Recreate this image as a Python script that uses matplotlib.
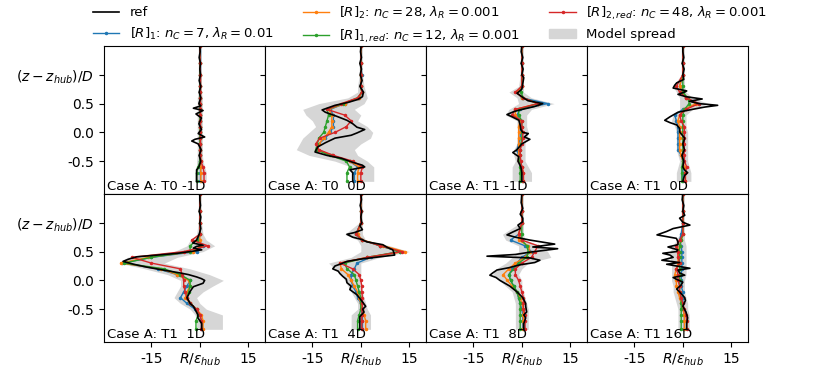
import numpy as np
import matplotlib
matplotlib.use("Agg")
import matplotlib.pyplot as plt
from matplotlib.patches import Patch

# panel titles
cases = ["Case A: T0 -1D", "Case A: T0  0D", "Case A: T1 -1D", "Case A: T1  0D",
         "Case A: T1  1D", "Case A: T1  4D", "Case A: T1  8D", "Case A: T1 16D"]

# reference profiles (z/D, R/eps_hub) per panel
z_ref = [
    [-0.85, -0.75, -0.65, -0.6, -0.5, -0.4, -0.3, -0.2, -0.15, -0.12, -0.08, -0.02, 0.05, 0.15, 0.25, 0.32,
     0.38, 0.42, 0.46, 0.5, 0.6, 0.7, 0.8, 0.9, 1.0, 1.1, 1.2, 1.3, 1.4, 1.5],
    [-0.85, -0.7, -0.65, -0.6, -0.57, -0.52, -0.45, -0.4, -0.34, -0.25, -0.18, -0.1, -0.05, -0.01, 0.05, 0.09,
     0.15, 0.21, 0.28, 0.35, 0.39, 0.43, 0.47, 0.52, 0.57, 0.62, 0.7, 0.8, 0.9, 1.0, 1.1, 1.2, 1.3, 1.4, 1.5],
    [-0.85, -0.7, -0.6, -0.5, -0.42, -0.35, -0.3, -0.2, -0.12, -0.08, -0.02, 0.0, 0.05, 0.12, 0.21, 0.27,
     0.31, 0.36, 0.39, 0.45, 0.5, 0.55, 0.6, 0.68, 0.75, 0.85, 0.95, 1.0, 1.1, 1.2, 1.3, 1.4, 1.5],
    [-0.85, -0.75, -0.7, -0.65, -0.6, -0.5, -0.4, -0.3, -0.2, -0.1, 0.0, 0.07, 0.13, 0.17, 0.21, 0.27,
     0.35, 0.4, 0.44, 0.47, 0.5, 0.54, 0.58, 0.62, 0.66, 0.7, 0.72, 0.77, 0.82, 0.86, 0.92, 1.0, 1.1, 1.2,
     1.3, 1.4, 1.5],
    [-0.85, -0.75, -0.65, -0.6, -0.5, -0.45, -0.4, -0.35, -0.3, -0.25, -0.2, -0.15, -0.11, -0.05, 0.0, 0.03,
     0.06, 0.1, 0.13, 0.18, 0.23, 0.28, 0.33, 0.37, 0.41, 0.44, 0.47, 0.5, 0.53, 0.56, 0.59, 0.61, 0.65, 0.7,
     0.8, 0.9, 1.0, 1.1, 1.2, 1.3, 1.4, 1.5],
    [-0.85, -0.7, -0.63, -0.55, -0.5, -0.45, -0.38, -0.3, -0.25, -0.16, -0.1, -0.04, 0.02, 0.07, 0.12, 0.16,
     0.2, 0.25, 0.29, 0.33, 0.37, 0.41, 0.44, 0.49, 0.53, 0.58, 0.62, 0.67, 0.71, 0.75, 0.8, 0.83, 0.88, 0.95,
     1.0, 1.1, 1.2, 1.3, 1.4, 1.5],
    [-0.85, -0.75, -0.65, -0.6, -0.55, -0.45, -0.4, -0.3, -0.2, -0.1, 0.0, 0.05, 0.09, 0.13, 0.18, 0.22,
     0.27, 0.31, 0.35, 0.39, 0.42, 0.45, 0.49, 0.55, 0.58, 0.63, 0.7, 0.75, 0.79, 0.84, 0.9, 0.96, 1.02, 1.08,
     1.15, 1.25, 1.35, 1.5],
    [-0.85, -0.75, -0.65, -0.55, -0.45, -0.35, -0.3, -0.2, -0.15, -0.08, -0.03, 0.02, 0.05, 0.09, 0.13, 0.18,
     0.21, 0.25, 0.28, 0.31, 0.35, 0.4, 0.44, 0.47, 0.5, 0.53, 0.58, 0.62, 0.67, 0.73, 0.79, 0.85, 0.9, 0.96,
     1.01, 1.08, 1.13, 1.2, 1.3, 1.4, 1.5],
]
r_ref = [
    [-1.0, -1.0, -1.0, -0.3, 0.3, -0.2, 0.4, -0.5, -2.5, -1.5, 1.5, -0.5, 0.5, -0.3, 0.5, -1.2,
     1.0, -2.0, 0.3, -0.3, 0.3, -0.2, 0.3, -0.2, 0.2, 0.0, 0.2, -0.2, 0.1, 0.0],
    [-2.5, -2.5, -3.4, 1.2, 0.5, -2.5, -6.0, -10.5, -14.2, -13.3, -11.0, -8.0, -3.0, -1.2, 1.2, -1.2,
     -2.5, -4.3, -7.5, -11.0, -12.0, -10.0, -8.0, -4.0, -1.0, 0.5, 0.8, -0.3, 0.4, -0.2, 0.2, -0.3, 0.2, -0.1,
     0.1],
    [0.0, 0.0, -0.3, -1.2, -1.0, -2.8, -1.5, 0.0, 2.5, 0.8, 2.0, 0.3, -0.3, -0.5, -0.9, -3.0,
     -4.6, -2.5, -0.6, 4.0, 6.5, 1.9, 0.5, -1.5, 0.0, 0.3, 0.6, 0.0, 0.4, -0.2, 0.3, -0.2, 0.0],
    [0.0, 0.5, 1.5, 0.5, 0.0, 0.3, -0.3, 0.5, 0.0, 0.6, -0.9, -1.0, -1.9, -4.0, -5.6, -4.0,
     -1.5, 3.0, 6.8, 10.8, 5.0, 2.0, 6.0, 1.0, -1.5, 0.5, 1.2, -3.0, -2.5, -1.9, 0.3, 0.0, 0.4, -0.2,
     0.3, 0.0, 0.0],
    [0.6, 0.6, -0.6, -0.6, -1.5, -2.0, -3.0, -3.5, -4.0, -3.5, -3.1, -2.5, -2.0, 1.0, 1.5, 0.5,
     -1.0, -3.5, -6.2, -11.4, -16.4, -20.5, -23.8, -22.0, -19.5, -13.0, -7.0, -3.0, 0.6, -2.0, -1.0, 1.0, -2.2,
     -1.0, -0.2, 0.3, 0.0, 0.3, -0.2, 0.2, 0.0, 0.0],
    [-0.3, -0.3, -0.3, 1.0, 0.6, 1.5, 0.6, -0.5, -1.2, -3.4, -3.0, -4.3, -4.5, -5.6, -6.5, -7.0,
     -8.7, -8.0, -6.0, -4.3, 0.0, 6.0, 10.5, 10.2, 9.9, 8.0, 6.8, 1.8, 0.3, -2.5, -4.3, -2.0, 0.5, -0.3,
     0.3, 0.0, 0.3, -0.2, 0.2, 0.0],
    [0.6, 0.6, 1.2, 0.6, 1.5, 1.2, 1.2, 0.3, -1.5, -3.7, -6.8, -8.0, -9.9, -9.0, -7.7, -4.0,
     -0.6, 4.0, 5.6, 2.5, -10.8, -2.0, 2.5, 11.1, 3.4, 10.2, 2.5, -2.0, -4.6, -2.8, -0.5, -1.2, 0.3, 0.3,
     -0.5, 0.3, -0.2, 0.0],
    [1.2, 1.2, 1.5, 1.0, 0.0, 0.8, 0.6, -1.0, -1.9, -0.5, 0.0, -2.0, -3.0, 0.6, -1.0, -1.5,
     2.2, -2.0, -5.0, -1.0, -6.5, -3.0, -4.0, -6.2, -2.0, -1.5, -4.6, -1.5, -1.5, -2.0, -8.0, -5.0, -3.0, 2.2,
     0.0, -1.0, 0.6, 0.0, 0.3, -0.2, 0.0],
]

# model profiles on a common z grid
z_mod = [-0.85, -0.7, -0.6, -0.5, -0.4, -0.3, -0.2, -0.1, 0.0, 0.1, 0.2, 0.3, 0.4, 0.5, 0.6, 0.7, 0.8, 1.0, 1.2, 1.5]

r1 = [
    [0.0, 0.0, 0.0, 0.0, 0.0, 0.0, 0.0, 0.0, 0.0, 0.0, 0.0, 0.0, 0.0, 0.0, 0.0, 0.0, 0.0, 0.0, 0.0, 0.0],
    [-2, -2, -1, -3.5, -9, -13.5, -13, -11, -9.5, -8.5, -8.5, -8.5, -9.5, -5, -0.5, 0.5, 0, 0.3, 0, 0],
    [0, 0, 0, -0.5, -1, -1.5, -1, -0.5, -0.5, -0.5, -0.5, -1.5, -0.5, 8, 0, -1.5, 0, 0, 0, 0],
    [0, 0, 0, 0, -0.5, -1.5, -1.5, -1.5, -1.5, -1.5, -2, -2.5, 0, 5, 1, 0, -1, 0, 0, 0],
    [0.5, 0.5, 0, -1.5, -4, -6, -5, -4, -3, -7, -13, -24, -15, -1, 1, -0.5, 0, 0, 0, 0],
    [0.5, 0.5, 0.5, 0, 0, -1, -1.5, -2.5, -3, -3, -2, -1.2, 3, 12, 6, 0.5, -1.5, 0, 0, 0],
    [0.3, 0.3, 0.3, 0, -0.5, -1, -1.5, -2.5, -3.5, -4, -3, -1.5, 0, 3, 1, -3.5, -1, 0, 0, 0],
    [0.5, 0.5, 0.5, 0, 0, 0, 0, -0.5, -0.5, -0.5, -0.3, -0.3, -0.3, -0.3, -0.5, -1, -0.5, 0, 0, 0],
]
r2 = [
    [0.3, 0.3, 0.3, 0.3, 0.2, 0.2, 0.2, 0.2, 0.2, 0.2, 0.2, 0.2, 0.2, 0.2, 0.2, 0.2, 0.2, 0.2, 0.1, 0.0],
    [-1, -1, -0.5, -3.5, -9, -13.5, -13, -11.5, -10, -9, -9, -9, -10, -5, -0.5, 0.3, 0, 0.2, 0, 0],
    [0.5, 0.5, 0, -1, -1, -1, -1, -1, -1, -1, -0.5, -2, -2, 5, 0, -1.5, 0, 0, 0, 0],
    [0.8, 0.8, 0.5, 0, -0.5, -1, -1, -1, -1, -1, -1.5, -1, 0.5, 4, 1, 0, -1, 0, 0, 0],
    [1, 1, 0.5, -1, -3, -4.5, -4, -3, -3.5, -7, -12, -24.5, -16, -2, 0.5, 0, 0, 0, 0, 0],
    [1.5, 1.5, 1, 0.5, 0, -0.5, -1, -2, -3, -4, -6, -6.5, 2, 13.6, 7, 0.5, -1, 0, 0, 0],
    [0.5, 0.5, 0.5, 0.5, 0, -0.5, -1.5, -3, -4.5, -5.8, -4, -2, 1, 2.5, 2, -1, -1, 0, 0, 0],
    [0.5, 0.5, 0.5, 0, -0.5, -1, -1.5, -2, -2, -2.5, -2, -1.5, -1.5, -1.5, -1, -0.5, 0, 0, 0, 0],
]
r1_red = [
    [-1, -1, -0.5, 0, 0, 0, 0, 0, 0, 0, 0, 0, 0, 0, 0, 0, 0, 0, 0, 0],
    [-4.3, -4.3, -3.5, -4.5, -9.5, -14, -13.5, -13, -11.5, -11, -10.5, -10, -10.5, -5.5, -1, 0.3, 0, 0.2, 0, 0],
    [-0.5, -0.5, -0.5, -0.5, -0.5, -0.5, -0.3, 0, 0, 0, 0, -1, -1, 5, 0.5, -0.3, 0, 0, 0, 0],
    [-0.3, -0.3, -0.3, 0, 0, 0, 0, 0, 0, 0, 0, 0, 0.5, 2, 1.5, 0, 0, 0, 0, 0],
    [-1.2, -1.2, -0.5, -1, -3, -4, -3.5, -3, -3, -6, -11, -23.5, -15, -3, -3, -1, 0, 0, 0, 0],
    [-1, -1, -0.5, 0, 0, 0, -0.5, -1, -1.5, -2, -4.3, -5, 2, 12, 6, 0.5, -1.5, 0, 0, 0],
    [-0.5, -0.5, -0.5, -0.5, -0.5, -1, -1.5, -2.5, -3.5, -4, -2.5, -1, 1.5, 2, 1.5, 0, 0, 0, 0, 0],
    [-0.5, -0.5, -0.5, -0.5, -0.5, -0.5, -1, -1, -1, -1, -1, -1, -1, -1, -1, -0.5, 0, 0, 0, 0],
]
r2_red = [
    [1.3, 1.3, 1, 0.3, 0.2, 0.2, 0.2, 0.2, 0.2, 0.2, 0.2, 0.2, 0.2, 0.2, 0.2, 0.2, 0.2, 0.2, 0.1, 0.0],
    [0, 0, 0.5, -2.5, -8.5, -13, -14, -12.7, -8, -4.5, -3, -5, -10.5, -6, -1, 0.3, 0, 0.2, 0, 0],
    [0.5, 0.5, 0, -0.3, -0.5, -0.5, 0, 0.3, 0.3, 0, 0, -3, -2, 5, 0.5, -2, 0, 0, 0, 0],
    [0.8, 0.8, 1.2, 0.5, 0.5, 0.3, 0.5, 0.5, 0.5, 0.5, -0.5, -1, 1, 5, 1, -1, -2, 0, 0, 0],
    [0.5, 0.5, 0, -1, -3, -4, -4.5, -5, -5, -5.5, -6, -15, -21, -5, 2.5, -2.5, 0, 0, 0, 0],
    [0.3, 0.3, 0.3, 0.5, 0.5, 0.5, 0.3, 0.3, 0, -0.5, -2.5, -6.5, 2, 12.7, 6, 0.5, -1.5, 0, 0, 0],
    [1, 1, 1, 0.5, 0.5, 0.5, 0, -0.5, -1, -2, -2, 0, 3, 4, 5, 0, -1, 0, 0, 0],
    [1.2, 1.2, 1, 0.5, 0, -0.5, -1, -1, -1.5, -1.5, -2, -1, -1.5, -1.5, -2, -1, 0, 0, 0, 0],
]
spread_lo = [
    [-1.5, -1.5, -1, -1, -0.8, -0.8, -0.8, -0.8, -0.8, -0.8, -0.8, -0.8, -0.8, -0.8, -0.8, -0.5, -0.5, -0.5, -0.5, -0.5],
    [-3, -3, -3, -8, -16, -20, -19, -18, -16, -14, -15, -17, -18, -13, -4, -1, -1, -0.5, -0.5, -0.5],
    [-3, -3, -3, -2, -2.5, -2.5, -1.5, -1.5, -1, -1.5, -1.5, -5, -4, -1, -1.5, -4, -1, -0.5, -0.5, -0.5],
    [-2, -2, -1.5, -1, -1.5, -2, -2, -2, -2, -2.5, -3.5, -3, -1, -1, -1, -2, -3, -0.5, -0.5, -0.5],
    [-1, -1, -1.5, -3, -6, -8, -7, -6, -6, -10, -17, -25, -22.5, -8, -4, -3, -1, -0.5, -0.5, -0.5],
    [-3, -3, -3, -1, -1, -2, -3, -4, -5, -6, -8, -10, -3, 0, 0, -1, -5, -0.5, -0.5, -0.5],
    [-2, -2, -2, -2, -2, -2.5, -3, -5, -7, -9, -8, -5, -3, -1, -1, -5, -6, -0.5, -0.5, -0.5],
    [-1.5, -1.5, -1.5, -1.5, -2, -2.5, -3, -3, -3.5, -3.5, -3.5, -3.5, -4, -4, -3, -2, -1, -0.5, -0.5, -0.5],
]
spread_hi = [
    [2, 2, 1.5, 1, 0.8, 0.8, 0.8, 0.8, 0.8, 0.8, 0.8, 0.8, 0.8, 0.8, 0.8, 0.5, 0.5, 0.5, 0.5, 0.5],
    [4, 4, 4, 2, -1, -2, 0, 3, 3.7, 2, -1, 0, -2, 1, 2, 1.5, 1, 0.5, 0.5, 0.5],
    [3, 3, 2, 1, 1, 1, 1, 1.5, 2, 1.5, 1.5, 1.5, 3, 10, 3, 0.5, 0.5, 0.5, 0.5, 0.5],
    [2.5, 2.5, 2, 1.5, 1.5, 1.5, 1.5, 1.5, 1.5, 1, 1, 1, 3, 8, 3, 1, 0.5, 0.5, 0.5, 0.5],
    [7, 7, 7, 2, 0, -1, 1, 4, 7.3, 3, -3, -11, -7, 1, 4.6, 2, 1, 0.5, 0.5, 0.5],
    [3, 3, 3, 2, 1.5, 1, 0.5, 0, 0, 0, 0, 0, 6, 15, 9, 1.5, 0.5, 0.5, 0.5, 0.5],
    [2, 2, 2, 2, 1.5, 1, 0.5, 0, 0, -1, 0, 2, 9, 8, 6, 1, 0.5, 0.5, 0.5, 0.5],
    [2, 2, 2, 1.5, 1.5, 1, 0.5, 0.5, 0.5, 1, 1, 1, 1, 1, 1, 0.5, 0.5, 0.5, 0.5, 0.5],
]

labels = ["ref",
          r"$[R]_1$: $n_C = 7$, $\lambda_R = 0.01$",
          r"$[R]_2$: $n_C = 28$, $\lambda_R = 0.001$",
          r"$[R]_{1,red}$: $n_C = 12$, $\lambda_R = 0.001$",
          r"$[R]_{2,red}$: $n_C = 48$, $\lambda_R = 0.001$",
          "Model spread"]

fig, axes = plt.subplots(2, 4, figsize=(8.3, 3.86), dpi=100, sharex=True, sharey=True)
fig.subplots_adjust(left=0.1253, right=0.9012, top=0.8808, bottom=0.114, hspace=0, wspace=0)

for i, ax in enumerate(axes.flat):
    ax.fill_betweenx(z_mod, spread_lo[i], spread_hi[i], color="0.84", lw=0)
    ax.plot(r1[i], z_mod, color="tab:blue", lw=1, marker=".", ms=3)
    ax.plot(r2[i], z_mod, color="tab:orange", lw=1, marker=".", ms=3)
    ax.plot(r1_red[i], z_mod, color="tab:green", lw=1, marker=".", ms=3)
    ax.plot(r2_red[i], z_mod, color="tab:red", lw=1, marker=".", ms=3)
    ax.plot(r_ref[i], z_ref[i], color="k", lw=1.2)
    ax.text(0.02, 0.01, cases[i], transform=ax.transAxes, fontsize=9.5, va="bottom", ha="left")
    ax.set_xlim(-29.7, 20.2)
    ax.set_ylim(-1.07, 1.5)
    ax.set_yticks([-0.5, 0.0, 0.5, 1.0])
    ax.set_xticks([-15, 0, 15])
    if i < 4:
        ax.tick_params(axis="x", bottom=False)

axes[0, 0].set_yticklabels(["-0.5", "0.0", "0.5", r"$(z-z_{hub})/D$"])
axes[1, 0].set_yticklabels(["-0.5", "0.0", "0.5", r"$(z-z_{hub})/D$"])
for ax in axes[1]:
    ax.set_xticklabels(["-15", r"$R/\epsilon_{hub}$", "15"])

handles = [plt.Line2D([], [], color="k", lw=1.2),
           plt.Line2D([], [], color="tab:blue", lw=1, marker=".", ms=3),
           plt.Line2D([], [], color="tab:orange", lw=1, marker=".", ms=3),
           plt.Line2D([], [], color="tab:green", lw=1, marker=".", ms=3),
           plt.Line2D([], [], color="tab:red", lw=1, marker=".", ms=3),
           Patch(color="0.84")]
fig.legend(handles, labels, loc="upper center", bbox_to_anchor=(0.518, 1.02), ncol=3, frameon=False,
           fontsize=9.5, columnspacing=2.2)

fig.savefig("out.png", dpi=100)
